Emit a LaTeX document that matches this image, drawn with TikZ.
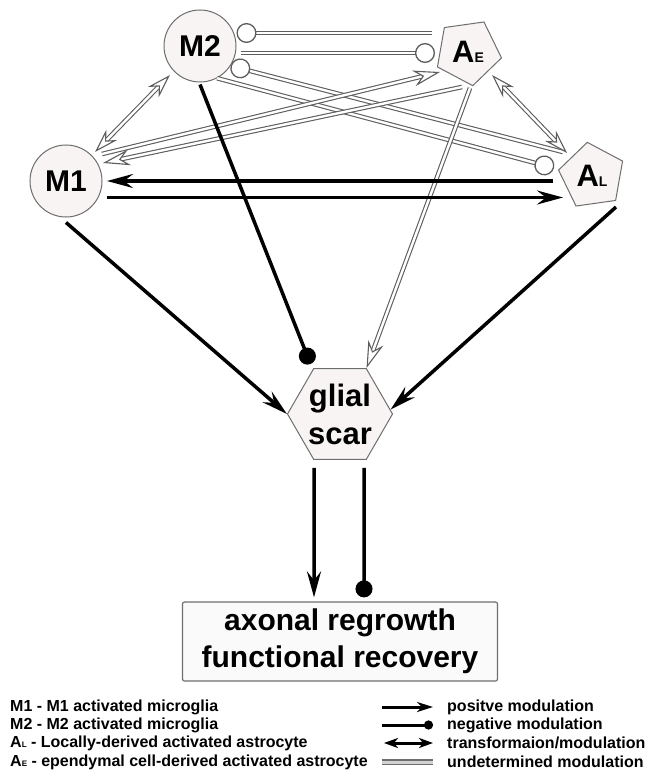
\documentclass[tikz,border=0pt]{standalone}
\usepackage{fontspec}
\setmainfont{Liberation Sans}
\usetikzlibrary{arrows.meta,shapes.geometric}
\definecolor{cellfill}{HTML}{F8F4F4}
\definecolor{rim}{HTML}{6E6E6E}
\tikzset{
  cell/.style={circle,draw=rim,line width=1pt,fill=cellfill,minimum size=72pt,inner sep=0pt,font=\fontsize{30}{30}\selectfont\bfseries},
  astro/.style={regular polygon,regular polygon sides=5,draw=rim,line width=1pt,fill=cellfill,minimum size=68pt,inner sep=0pt,font=\fontsize{31}{31}\selectfont\bfseries},
  scar/.style={regular polygon,regular polygon sides=6,draw=rim,line width=1pt,fill=cellfill,minimum size=105pt,inner sep=-10pt,align=center,font=\fontsize{31}{38}\selectfont\bfseries},
  outcome/.style={draw=rim,line width=1.2pt,fill=cellfill!50,rounded corners=2pt,minimum width=315pt,minimum height=79pt,align=center,font=\fontsize{30}{37}\selectfont\bfseries},
  key/.style={anchor=west,inner sep=0pt,font=\fontsize{16}{16}\selectfont\bfseries},
  posarr/.style={line width=3.5pt,-{Stealth[length=26pt,width=14pt,inset=9pt]}},
  negdot/.style={line width=3.5pt,-{Circle[length=17pt]}},
  undline/.style={draw=rim!85!black,line width=1.1pt,double=white,double distance=2.4pt},
  hollowarr/.style={undline,-{Stealth[open,fill=white,line width=1.1pt,length=27pt,width=16pt,inset=9pt]}},
  trnarr/.style={undline,{Stealth[open,fill=white,line width=1.1pt,length=24pt,width=15pt,inset=8pt]}-{Stealth[open,fill=white,line width=1.1pt,length=24pt,width=15pt,inset=8pt]}},
  ringend/.style={undline,-{Circle[open,fill=white,line width=1.3pt,length=20pt]}},
  ringstart/.style={undline,{Circle[open,fill=white,line width=1.3pt,length=20pt]}-}
}
\newcommand{\sm}[2]{{\fontsize{#1}{#1}\selectfont #2}}

\begin{document}
\begin{tikzpicture}[x=1pt,y=-1pt]
\useasboundingbox (0,0) rectangle (647,773);
% cells
\node[cell] (M1) at (66,181) {M1};
\node[cell] (M2) at (200,46) {M2};
\node[astro,shape border rotate=-28] (AE) at (468,52) {A\sm{14}{E}};
\node[astro,shape border rotate=8] (AL) at (592,176) {A\sm{14}{L}};
\node[scar] (glial) at (340,414) {glial\\scar};
\node[outcome] (box) at (340,641.5) {axonal regrowth\\functional recovery};
% undetermined
\draw[ringstart] ([yshift=13pt]M2.east) -- ([xshift=-36pt,yshift=19pt]AE.center);
\draw[ringend] ([xshift=4pt,yshift=-7pt]M2.east) -- ([xshift=-33pt,yshift=-1pt]AE.center);
\draw[ringstart] (M2.-33) -- ([xshift=-29pt,yshift=24pt]AL.center);
\draw[ringend] (M2.-62) -- ([xshift=-38pt,yshift=8pt]AL.center);
\draw[hollowarr] ([xshift=36pt,yshift=27pt]M1.center) -- ([xshift=-28pt,yshift=-20pt]AE.center);
\draw[hollowarr] ([xshift=-6pt,yshift=-35pt]AE.center) -- ([xshift=37pt,yshift=18pt]M1.center);
\draw[hollowarr] ([xshift=2pt,yshift=-36pt]AE.center) -- (glial.60);
% transformation
\draw[trnarr] ([xshift=29pt,yshift=29pt]M1.center) -- ([xshift=-30pt,yshift=-29pt]M2.center);
\draw[trnarr] ([xshift=24pt,yshift=-23pt]AE.center) -- ([xshift=-25pt,yshift=23pt]AL.center);
% positive / negative
\draw[posarr] ([xshift=-39pt,yshift=-5pt]AL.center) -- ([xshift=41pt]M1.center);
\draw[posarr] ([xshift=41pt,yshift=-16.5pt]M1.center) -- ([xshift=-29pt,yshift=-21.5pt]AL.center);
\draw[posarr] ([yshift=-5pt]M1.south) -- (glial.180);
\draw[negdot] ([yshift=-2pt]M2.south) -- ([xshift=-29.5pt,yshift=50pt]glial.center);
\draw[posarr] ([xshift=24pt,yshift=-31pt]AL.center) -- (glial.5);
\draw[posarr] ([xshift=-26pt,yshift=-8pt]glial.south) -- ([xshift=-26pt,yshift=4pt]box.north);
\draw[negdot] ([xshift=24pt,yshift=-8pt]glial.south) -- ([xshift=24pt,yshift=4pt]box.north);
% legend
\node[key] (k1) at (10,707) {M1 - M1 activated microglia};
\node[key] (k2) at (10,725) {M2 - M2 activated microglia};
\node[key] (k3) at (10,743) {A\sm{8}{L} - Locally-derived activated astrocyte};
\node[key] (k4) at (10,762) {A\sm{8}{E} - ependymal cell-derived activated astrocyte};
\coordinate (s1) at (382,707); \coordinate (e1) at (433,707);
\coordinate (s2) at (382,725); \coordinate (e2) at (433,725);
\coordinate (s3) at (384,743); \coordinate (e3) at (433,743);
\coordinate (s4) at (382,762); \coordinate (e4) at (433,762);
\draw[line width=3pt,-{Stealth[length=16pt,width=10pt,inset=5pt]}] (s1) -- (e1);
\draw[line width=3pt,-{Circle[length=9pt]}] (s2) -- (e2);
\draw[line width=3pt,{Stealth[length=14pt,width=10pt,inset=4pt]}-{Stealth[length=14pt,width=10pt,inset=4pt]}] (s3) -- (e3);
\draw[draw=rim,line width=1.2pt,double=gray!35,double distance=3pt] (s4) -- (e4);
\node[key] (t1) at (447,707) {positve modulation};
\node[key] (t2) at (447,725) {negative modulation};
\node[key] (t3) at (447,743) {transformaion/modulation};
\node[key] (t4) at (447,762) {undetermined modulation};
\end{tikzpicture}
\end{document}
